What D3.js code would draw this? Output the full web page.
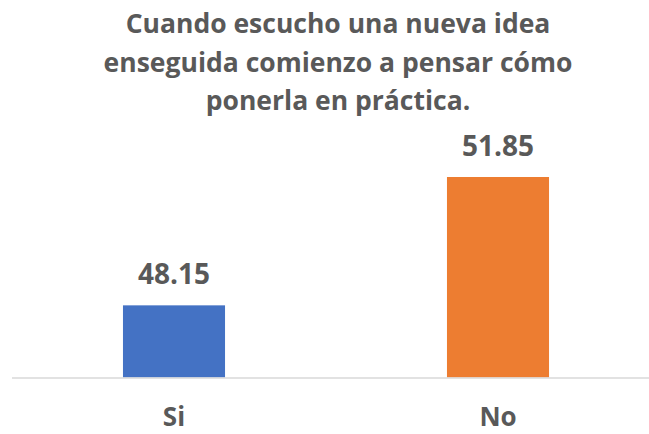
<!DOCTYPE html>
<html>
<head>
<meta charset="utf-8">
<script src="https://cdn.jsdelivr.net/npm/d3@7"></script>
<style>
  body { margin: 0; background: #fff; }
  text { font-family: "Open Sans", sans-serif; font-weight: 700; fill: #595959; }
</style>
</head>
<body>
<svg></svg>
<script>
var categories = ["Si", "No"];
var values = [48.15, 51.85];
var colors = ["#4472C4", "#ED7D31"];
var titleLines = ["Cuando escucho una nueva idea", "enseguida comienzo a pensar cómo", "ponerla en práctica."];

var width = 649;
var height = 434;
var svg = d3.select("svg")
            .attr("width", width)
            .attr("height", height);

// axis does not start at zero, bars sit on ~46
var xScale = d3.scaleBand()
               .domain(categories)
               .range([12, 660])
               .paddingInner(0.685)
               .paddingOuter(0.3425);

var yScale = d3.scaleLinear()
               .domain([46.07, 52])
               .range([377.5, 171.8]);

// title
svg.append("g")
  .selectAll("text")
  .data(titleLines)
  .enter()
  .append("text")
  .attr("x", 338)
  .attr("y", function(d, i) { return 33 + i * 38.5; })
  .attr("text-anchor", "middle")
  .style("font-size", "26.5px")
  .text(function(d) { return d; });

svg.selectAll("rect")
  .data(values)
  .enter()
  .append("rect")
  .attr("x", function(d, i) { return xScale(categories[i]); })
  .attr("y", function(d) { return yScale(d); })
  .attr("width", xScale.bandwidth())
  .attr("height", function(d) { return yScale(46.07) - yScale(d); })
  .attr("fill", function(d, i) { return colors[i]; });

// baseline
svg.append("line")
  .attr("x1", 12)
  .attr("x2", 660)
  .attr("y1", yScale(46.07) + 0.5)
  .attr("y2", yScale(46.07) + 0.5)
  .attr("stroke", "#d9d9d9")
  .attr("stroke-width", 1.5);

// value labels
svg.append("g")
  .selectAll("text")
  .data(values)
  .enter()
  .append("text")
  .attr("x", function(d, i) { return xScale(categories[i]) + xScale.bandwidth() / 2; })
  .attr("y", function(d) { return yScale(d) - 21; })
  .attr("text-anchor", "middle")
  .style("font-size", "28px")
  .text(function(d) { return d.toFixed(2); });

// category labels
svg.append("g")
  .selectAll("text")
  .data(categories)
  .enter()
  .append("text")
  .attr("x", function(d) { return xScale(d) + xScale.bandwidth() / 2; })
  .attr("y", 426)
  .attr("text-anchor", "middle")
  .style("font-size", "26px")
  .text(function(d) { return d; });
</script>
</body>
</html>
